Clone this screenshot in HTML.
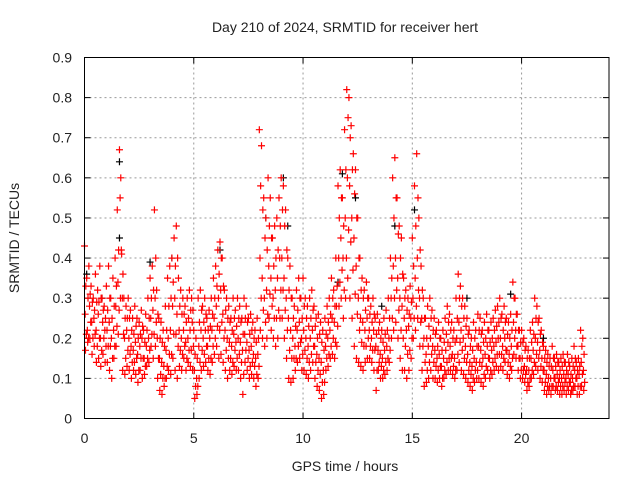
<!DOCTYPE html>
<html><head><meta charset="utf-8"><style>
body{margin:0;background:#fff;}
svg text{font-family:"Liberation Sans",sans-serif;font-size:14px;fill:#222;}
</style></head><body>
<svg id="chart" width="640" height="480" xmlns="http://www.w3.org/2000/svg">
<rect width="640" height="480" fill="#fff"/>
<text x="345" y="32" text-anchor="middle">Day 210 of 2024, SRMTID for receiver hert</text>
<g id="grid"></g>
<g id="ticks"></g>
<g id="pts"></g>
<rect x="84.5" y="57.5" width="524.5" height="361" fill="none" stroke="#000" stroke-width="1"/>
<text x="345" y="471" text-anchor="middle">GPS time / hours</text>
<text transform="translate(19,238) rotate(-90)" text-anchor="middle">SRMTID / TECUs</text>
</svg>
<script>
const xTicks=[0,5,10,15,20];
const yTicks=[0,0.1,0.2,0.3,0.4,0.5,0.6,0.7,0.8,0.9];
const yTickLabels=["0","0.1","0.2","0.3","0.4","0.5","0.6","0.7","0.8","0.9"];
const timeStep=0.1;
const hiVals=[.43,.35,.38,.33,.30,.36,.32,.38,.30,.28, .33,.38,.30,.35,.40,.52,.67,.41,.30,.28, .30,.27,.25,.28,.25,.24,.27,.22,.26,.30, .35,.38,.52,.32,.25,.24,.22,.28,.35,.38, .40,.45,.48,.35,.32,.30,.28,.30,.32,.30, .22,.20,.30,.32,.28,.30,.25,.27,.30,.35, .38,.42,.44,.40,.32,.30,.28,.25,.30,.27, .30,.28,.25,.30,.28,.25,.26,.24,.22,.25, .72,.68,.55,.50,.60,.55,.45,.48,.50,.55, .60,.58,.52,.40,.38,.30,.28,.32,.35,.30, .35,.30,.28,.30,.32,.28,.25,.26,.24,.22, .25,.28,.30,.35,.32,.40,.58,.62,.55,.72, .82,.80,.73,.66,.62,.50,.40,.35,.32,.34, .30,.28,.30,.25,.26,.24,.22,.25,.27,.30, .40,.60,.65,.55,.48,.45,.35,.32,.30,.33, .45,.58,.66,.50,.38,.30,.25,.28,.30,.27, .25,.22,.24,.20,.22,.25,.28,.26,.24,.22, .30,.36,.33,.30,.28,.25,.22,.20,.24,.22, .26,.25,.22,.24,.26,.22,.24,.25,.27,.28, .30,.26,.28,.25,.24,.26,.34,.30,.26,.22, .22,.20,.18,.17,.22,.24,.30,.28,.25,.22, .18,.17,.16,.15,.18,.15,.16,.14,.15,.16, .14,.16,.13,.15,.18,.14,.15,.22,.20];
const upperVals=[.33,.30,.31,.29,.27,.29,.29,.30,.27,.25, .27,.30,.25,.28,.33,.42,.60,.36,.25,.25, .25,.22,.21,.23,.20,.21,.23,.19,.22,.25, .30,.32,.40,.26,.20,.19,.18,.22,.28,.30, .34,.38,.40,.28,.26,.26,.24,.25,.27,.27, .16,.15,.24,.27,.24,.26,.22,.23,.26,.30, .33,.36,.40,.33,.27,.25,.24,.22,.25,.23, .25,.24,.21,.25,.24,.21,.22,.20,.19,.20, .58,.52,.45,.42,.48,.45,.38,.40,.42,.48, .52,.48,.42,.32,.30,.25,.23,.27,.30,.25, .28,.25,.23,.25,.27,.23,.20,.21,.19,.17, .21,.24,.26,.30,.28,.33,.50,.55,.48,.62, .75,.70,.62,.56,.50,.40,.32,.30,.27,.30, .26,.24,.26,.21,.22,.20,.19,.21,.22,.25, .35,.50,.55,.46,.40,.36,.30,.27,.26,.29, .38,.48,.55,.42,.32,.25,.20,.23,.25,.22, .21,.18,.20,.17,.19,.21,.24,.22,.20,.19, .25,.30,.28,.25,.23,.21,.18,.17,.20,.18, .22,.21,.19,.20,.22,.19,.20,.22,.23,.24, .25,.22,.24,.21,.20,.22,.30,.26,.22,.19, .19,.17,.15,.15,.19,.21,.25,.24,.21,.19, .15,.14,.13,.13,.15,.13,.14,.12,.13,.14, .12,.14,.11,.13,.15,.12,.13,.18,.16];
const midVals=[.26,.22,.28,.24,.25,.22,.26,.20,.24,.22, .22,.24,.20,.22,.28,.34,.55,.30,.20,.22, .20,.18,.17,.19,.16,.18,.20,.15,.18,.20, .25,.27,.30,.20,.15,.14,.13,.17,.20,.22, .28,.30,.26,.22,.20,.22,.19,.20,.22,.24, .12,.10,.18,.22,.20,.22,.18,.20,.22,.25, .28,.30,.32,.26,.22,.20,.19,.18,.21,.19, .20,.19,.17,.21,.19,.17,.18,.16,.15,.16, .40,.35,.30,.32,.38,.35,.30,.32,.35,.40, .40,.35,.30,.25,.22,.20,.18,.22,.24,.20, .22,.20,.18,.20,.22,.18,.16,.15,.14,.12, .18,.20,.22,.25,.24,.28,.40,.45,.40,.50, .60,.58,.50,.45,.38,.30,.25,.24,.22,.25, .22,.20,.22,.18,.17,.16,.15,.17,.18,.20, .30,.38,.40,.35,.30,.28,.25,.22,.23,.25, .30,.35,.40,.30,.25,.20,.16,.18,.20,.18, .17,.15,.16,.13,.15,.17,.19,.18,.16,.15, .20,.24,.22,.20,.18,.16,.14,.13,.15,.14, .18,.17,.15,.16,.18,.15,.17,.18,.19,.20, .20,.18,.20,.17,.16,.18,.24,.22,.18,.15, .15,.13,.12,.12,.15,.17,.20,.19,.17,.15, .12,.11,.10,.10,.12,.10,.11,.10,.10,.11, .10,.11,.09,.10,.12,.10,.11,.14,.12];
const lowerVals=[.21,.20,.24,.20,.21,.18,.20,.17,.20,.18, .18,.18,.15,.18,.23,.27,.42,.21,.15,.17, .16,.14,.14,.15,.12,.15,.15,.13,.15,.17, .21,.21,.24,.15,.11,.10,.10,.13,.16,.16, .21,.21,.18,.17,.16,.18,.15,.17,.17,.18, .08,.08,.14,.17,.16,.18,.15,.15,.18,.20, .23,.22,.24,.20,.17,.15,.15,.14,.17,.15, .16,.14,.11,.17,.15,.13,.14,.13,.11,.13, .30,.27,.24,.26,.31,.28,.25,.25,.27,.32, .32,.27,.22,.17,.15,.15,.15,.18,.19,.16, .17,.15,.14,.16,.18,.14,.12,.11,.09,.09, .15,.16,.18,.20,.19,.23,.34,.37,.32,.40, .47,.44,.37,.31,.26,.22,.19,.18,.18,.20, .18,.17,.17,.12,.14,.13,.12,.14,.15,.17, .25,.30,.32,.27,.22,.20,.18,.16,.17,.20, .25,.28,.32,.24,.18,.14,.12,.14,.16,.14, .13,.12,.13,.10,.12,.14,.15,.15,.13,.12, .16,.19,.17,.15,.14,.12,.11,.10,.12,.12, .14,.13,.11,.13,.15,.12,.14,.15,.16,.16, .16,.15,.17,.14,.13,.15,.20,.18,.15,.12, .12,.11,.09,.10,.12,.14,.16,.15,.13,.12, .09,.08,.08,.08,.10,.08,.09,.08,.08,.09, .08,.09,.07,.08,.10,.08,.08,.11,.09];
const loVals=[.17,.19,.20,.16,.18,.14,.15,.13,.16,.14, .14,.12,.10,.15,.18,.21,.30,.12,.11,.13, .12,.10,.12,.11,.09,.12,.10,.11,.13,.14, .18,.15,.18,.10,.07,.06,.08,.10,.12,.11, .15,.12,.10,.13,.12,.15,.12,.14,.13,.12, .05,.06,.10,.12,.13,.14,.12,.11,.14,.16, .18,.15,.16,.14,.12,.10,.12,.11,.13,.12, .12,.10,.06,.14,.12,.10,.11,.10,.08,.10, .22,.20,.18,.20,.25,.22,.20,.18,.20,.25, .25,.20,.15,.10,.09,.10,.12,.14,.15,.12, .12,.11,.10,.12,.14,.10,.08,.07,.05,.06, .12,.13,.15,.16,.15,.18,.28,.30,.25,.30, .35,.30,.25,.18,.15,.14,.13,.12,.14,.15, .15,.14,.12,.07,.12,.10,.10,.11,.12,.14, .20,.22,.24,.20,.15,.12,.12,.10,.12,.15, .20,.22,.25,.18,.12,.08,.09,.10,.12,.10, .10,.09,.10,.08,.10,.11,.12,.12,.11,.10, .12,.14,.12,.11,.10,.09,.08,.07,.09,.10, .10,.09,.08,.10,.12,.10,.11,.12,.13,.12, .13,.12,.14,.11,.10,.12,.16,.15,.12,.10, .10,.09,.07,.08,.10,.11,.13,.12,.10,.09, .07,.06,.07,.06,.08,.07,.07,.06,.06,.07, .06,.07,.06,.07,.08,.06,.06,.08,.07];
const blackTimes=[0.1,0.8,1.6,1.6,3.0,4.0,6.2,8.3,9.1,9.3,11.6,11.8,12.4,13.6,14.2,15.1,17.5,19.5,21.0];
const blackVals=[0.36,0.30,0.64,0.45,0.39,0.40,0.42,0.50,0.60,0.48,0.34,0.61,0.55,0.28,0.48,0.52,0.30,0.31,0.20];

const X0=84.5,X1=609,Y0=418.5,Y1=57.5;
const xs=t=>X0+(t/24)*(X1-X0);
const ys=v=>Y0-(v/0.9)*(Y0-Y1);
const NS="http://www.w3.org/2000/svg";
const grid=document.getElementById('grid'),ticks=document.getElementById('ticks'),pts=document.getElementById('pts');
function mk(tag,attrs,parent){const e=document.createElementNS(NS,tag);for(const k in attrs)e.setAttribute(k,attrs[k]);parent.appendChild(e);return e;}
xTicks.forEach(t=>{
  const x=xs(t);
  if(t>0){const g=mk('line',{x1:x,x2:x,y1:Y1,y2:Y0,stroke:'#999','stroke-dasharray':'2,3'},grid);
  
  }
  mk('line',{x1:x,x2:x,y1:Y0,y2:Y0-6,stroke:'#000'},ticks);
  mk('line',{x1:x,x2:x,y1:Y1,y2:Y1+6,stroke:'#000'},ticks);
  const l=mk('text',{x:x,y:443,'text-anchor':'middle'},ticks);l.textContent=t;
  
  
});
yTicks.forEach((v,i)=>{
  const y=ys(v);
  if(v>0&&v<0.9){const g=mk('line',{x1:X0,x2:X1,y1:y,y2:y,stroke:'#999','stroke-dasharray':'2,3'},grid);
  
  }
  mk('line',{x1:X0,x2:X0+6,y1:y,y2:y,stroke:'#000'},ticks);
  mk('line',{x1:X1,x2:X1-6,y1:y,y2:y,stroke:'#000'},ticks);
  const l=mk('text',{x:72,y:y+5,'text-anchor':'end'},ticks);l.textContent=yTickLabels[i];
  
  
});
function plus(t,v,color,name){
  const x=xs(t),y=ys(v);
  const p=mk('path',{d:`M${x-3.5},${y}H${x+3.5}M${x},${y-3.5}V${y+3.5}`,stroke:color,'stroke-width':1.2,fill:'none'},pts);
  
  
}
blackTimes.forEach((t,i)=>plus(t,blackVals[i],'#000','point-black'));
hiVals.forEach((v,i)=>plus(i*timeStep,v,'#f00','point-red'));
upperVals.forEach((v,i)=>plus(i*timeStep+timeStep*0.6,v,'#f00','point-red'));
midVals.forEach((v,i)=>plus(i*timeStep+timeStep*0.3,v,'#f00','point-red'));
lowerVals.forEach((v,i)=>plus(i*timeStep+timeStep*0.85,v,'#f00','point-red'));
loVals.forEach((v,i)=>plus(i*timeStep+timeStep*0.45,v,'#f00','point-red'));
</script>
</body></html>
